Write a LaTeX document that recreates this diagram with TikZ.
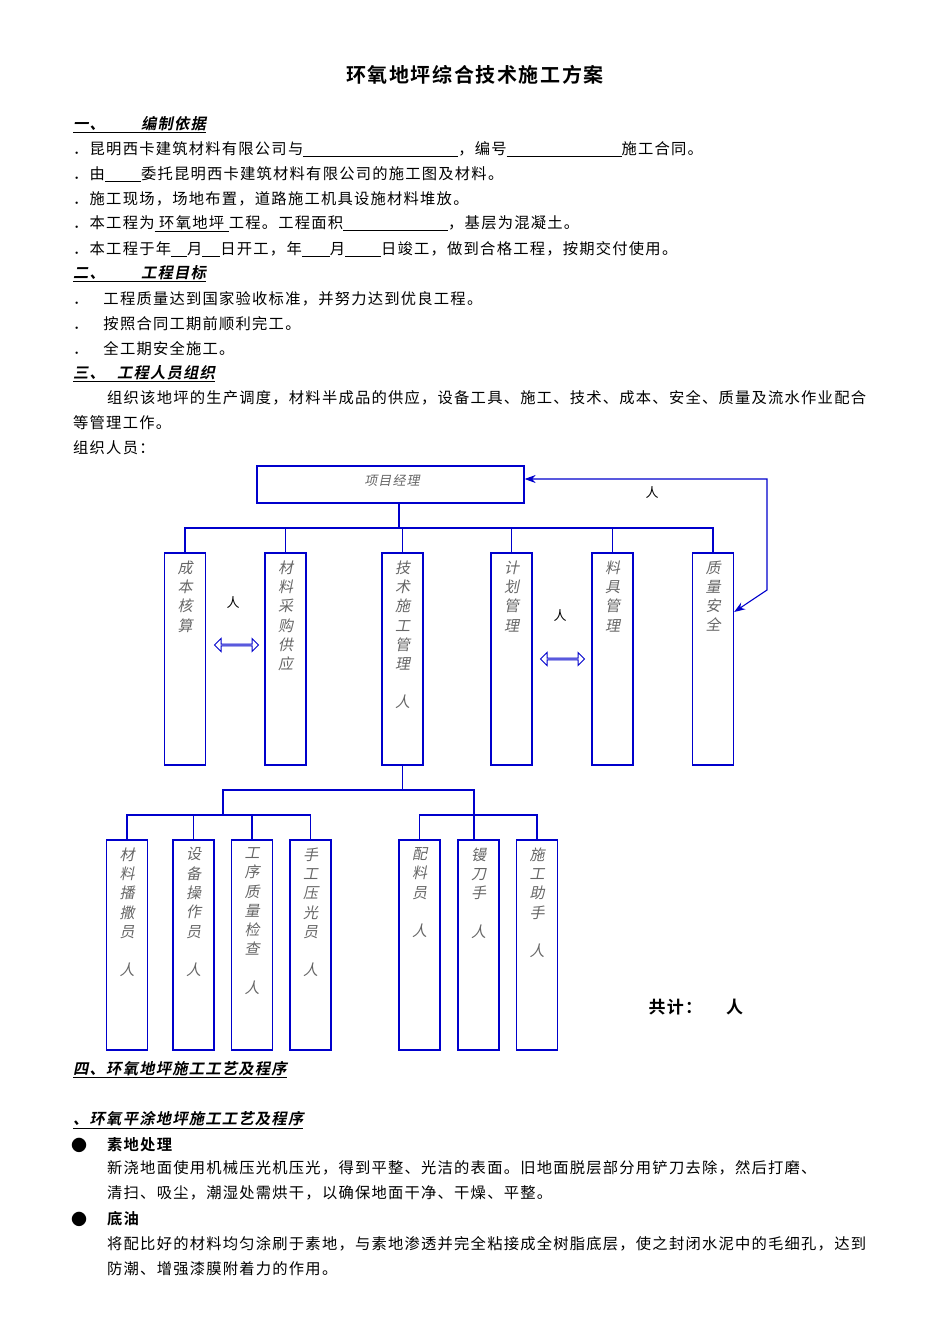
\documentclass[tikz,border=0pt]{standalone}
\usepackage{fontspec}
\setmainfont{Noto Sans CJK SC}[LetterSpace=8, BoldFont={* Bold}, ItalicFont={*}, ItalicFeatures={FakeSlant=0.2}, BoldItalicFont={* Bold}, BoldItalicFeatures={FakeSlant=0.2}]
\usetikzlibrary{shapes.arrows,arrows.meta}
\newcommand{\blank}[1]{\underline{\hspace{#1pt}}}
\begin{document}
\begin{tikzpicture}[x=1pt,y=-1pt,
  txt/.style={anchor=west,inner sep=0,font=\fontsize{15.3}{16}\selectfont},
  head/.style={anchor=west,inner sep=0,font=\fontsize{15.3}{16}\selectfont\bfseries\itshape},
  vbox/.style={draw=blue!80!black,line width=1.3pt,minimum width=41,inner sep=0},
  vtxt/.style={anchor=north,align=center,inner sep=0,text=black!60,font=\fontsize{15}{19.3}\selectfont\itshape},
  conn/.style={draw=blue!80!black,line width=1.1pt}]
\useasboundingbox (0,0) rectangle (950,1344);
\node[font=\fontsize{20}{22}\selectfont\bfseries] (title) at (475,75) {环氧地坪综合技术施工方案};
\node[head] (h1) at (73,125) {\underline{一、\hspace{36pt}编制依据}};
\node[txt] (l1) at (73,149) {．昆明西卡建筑材料有限公司与\blank{155}，编号\blank{115}施工合同。};
\node[txt] (l2) at (73,174) {．由\blank{36}委托昆明西卡建筑材料有限公司的施工图及材料。};
\node[txt] (l3) at (73,199) {．施工现场，场地布置，道路施工机具设施材料堆放。};
\node[txt] (l4) at (73,224) {．本工程为\underline{ 环氧地坪 }工程。工程面积\blank{105}，基层为混凝土。};
\node[txt] (l5) at (73,249) {．本工程于年\blank{16}月\blank{18}日开工，年\blank{28}月\blank{36}日竣工，做到合格工程，按期交付使用。};
\node[head] (h2) at (73,274) {\underline{二、\hspace{36pt}工程目标}};
\node[txt] (m1) at (73,299) {．\hspace{15pt}工程质量达到国家验收标准，并努力达到优良工程。};
\node[txt] (m2) at (73,324) {．\hspace{15pt}按照合同工期前顺利完工。};
\node[txt] (m3) at (73,349) {．\hspace{15pt}全工期安全施工。};
\node[head] (h3) at (73,374) {\underline{三、\hspace{12pt}工程人员组织}};
\node[txt] (p1) at (107,398) {组织该地坪的生产调度，材料半成品的供应，设备工具、施工、技术、成本、安全、质量及流水作业配合};
\node[txt] (p2) at (73,423) {等管理工作。};
\node[txt] (p3) at (73,448) {组织人员：};
% chart
\node[draw=blue!80!black,line width=1.3pt,minimum width=267,minimum height=37,inner sep=0] (pm) at (390.5,484.5) {};
\node[text=black!60,font=\fontsize{13}{14}\selectfont\itshape] (pmt) at (392,481) {项目经理};
\foreach \n/\x/\t in {a/185/成\\本\\核\\算, b/285.5/材\\料\\采\\购\\供\\应, c/402.5/技\\术\\施\\工\\管\\理\\[19pt]人, d/511.5/计\\划\\管\\理, e/612.5/料\\具\\管\\理, f/713/质\\量\\安\\全}{
  \node[vbox,minimum height=212] (\n) at (\x,659) {};
  \node[vtxt] (\n t) at ([yshift=-8]\n.north) {\t};
}
\draw[conn] ([xshift=8.5]pm.south) -- ([xshift=8.5]pm.south |- 0,528);
\draw[conn] (a.north) -- (185,528) -- (713,528) -- (f.north);
\foreach \n in {b,c,d,e} \draw[conn] (\n.north) -- (\n.north |- 0,528);
\draw[conn,{Stealth[length=11pt,width=8pt]}-{Stealth[length=11pt,width=8pt]}] ([yshift=47]f.east) -- (767,590) -- (767,479) -- ([yshift=5.5]pm.east);
\node[font=\fontsize{13}{14}\selectfont] (r1) at (652,493) {人};
\node[font=\fontsize{13}{14}\selectfont] (r2) at (233,603) {人};
\node[font=\fontsize{13}{14}\selectfont] (r3) at (560,616) {人};
\node[double arrow,draw=blue!80!black,fill=white,line width=1pt,minimum height=44,minimum width=13,double arrow head extend=3.5,inner sep=0] (da1) at (236.5,645) {};
\node[double arrow,draw=blue!80!black,fill=white,line width=1pt,minimum height=44,minimum width=13,double arrow head extend=3.5,inner sep=0] (da2) at (562.5,659) {};
\foreach \n/\x/\t in {g/127/材\\料\\播\\撒\\员\\[19pt]人, h/193.5/设\\备\\操\\作\\员\\[19pt]人, i/252/工\\序\\质\\量\\检\\查\\[19pt]人, j/310.5/手\\工\\压\\光\\员\\[19pt]人, k/419.5/配\\料\\员\\[19pt]人, l/478.5/镘\\刀\\手\\[19pt]人, m/537/施\\工\\助\\手\\[19pt]人}{
  \node[vbox,minimum height=210] (\n) at (\x,945) {};
  \node[vtxt] (\n t) at ([yshift=-8]\n.north) {\t};
}
\draw[conn] (c.south) -- (402.5,790);
\draw[conn] (223,815) -- (223,790) -- (474,790) -- (474,815);
\draw[conn] (g.north) -- (127,815) -- (310.5,815) -- (j.north);
\foreach \n in {h,i} \draw[conn] (\n.north) -- (\n.north |- 0,815);
\draw[conn] (k.north) -- (419.5,815) -- (537,815) -- (m.north);
\draw[conn] ([xshift=-4.5]l.north) -- (474,815);
\node[anchor=west,font=\fontsize{17}{18}\selectfont\bfseries] (tot) at (645,1007) {共计：\hspace{24pt}人};
% section 4
\node[head] (h4) at (73,1070) {\underline{四、环氧地坪施工工艺及程序}};
\node[head] (h5) at (73,1120) {\underline{、环氧平涂地坪施工工艺及程序}};
\node[font=\fontsize{16}{16}\selectfont] (bu1) at (79,1145) {●};
\node[txt,font=\fontsize{15.3}{16}\selectfont\bfseries] (s1) at (107,1145) {素地处理};
\node[txt] (s1a) at (107,1168) {新浇地面使用机械压光机压光，得到平整、光洁的表面。旧地面脱层部分用铲刀去除，然后打磨、};
\node[txt] (s1b) at (107,1193) {清扫、吸尘，潮湿处需烘干，以确保地面干净、干燥、平整。};
\node[font=\fontsize{16}{16}\selectfont] (bu2) at (79,1219) {●};
\node[txt,font=\fontsize{15.3}{16}\selectfont\bfseries] (s2) at (107,1219) {底油};
\node[txt] (s2a) at (107,1244) {将配比好的材料均匀涂刷于素地，与素地渗透并完全粘接成全树脂底层，使之封闭水泥中的毛细孔，达到};
\node[txt] (s2b) at (107,1269) {防潮、增强漆膜附着力的作用。};
\end{tikzpicture}
\end{document}
